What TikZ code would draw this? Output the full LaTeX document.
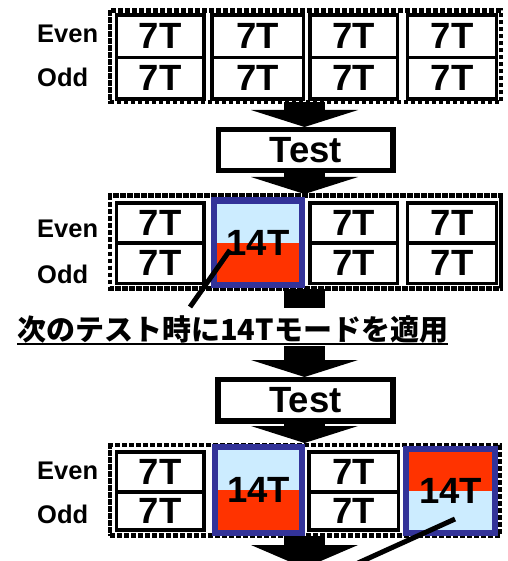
\documentclass[tikz,border=0pt]{standalone}
\usepackage{fontspec}
\setmainfont{Liberation Sans}
\newfontfamily\jpfont{Noto Sans CJK JP}
\usetikzlibrary{arrows.meta}
\definecolor{navy}{HTML}{333399}
\definecolor{hired}{HTML}{FF3300}
\definecolor{lblue}{HTML}{CCECFF}
\newcommand\bigtxt{\fontsize{36.5}{40}\selectfont\bfseries}
\newcommand\cellcol[6]{%
  \node[cell,minimum width={#3-#2},minimum height={#5-#4}] (#1a) at ({(#2+#3)/2},{(#4+#5)/2}) {7T};
  \node[cell,minimum width={#3-#2},minimum height={#6-#5}] (#1b) at ({(#2+#3)/2},{(#5+#6)/2}) {7T};}
\begin{document}
\begin{tikzpicture}[x=1pt,y=-1pt,
  frame/.style={draw,line width=4.5pt,dash pattern=on 4.2pt off 2.8pt,inner sep=0,outer sep=0},
  cell/.style={draw,fill=white,line width=3.8pt,inner sep=0,outer sep=0,font=\bigtxt},
  bigbox/.style={draw=navy,line width=6pt,fill=lblue,inner sep=0,outer sep=0,font=\bigtxt},
  redlow/.style={path picture={\fill[hired] (path picture bounding box.west) rectangle (path picture bounding box.south east);}},
  redhigh/.style={path picture={\fill[hired] (path picture bounding box.west) rectangle (path picture bounding box.north east);}},
  testbox/.style={draw,line width=5.5pt,fill=white,inner sep=0,outer sep=0,font=\bigtxt},
  rowlbl/.style={anchor=west,inner sep=0,font=\fontsize{25.5}{28}\selectfont\bfseries},
  blockarrow/.style={line width=41pt,-{Triangle[length=17pt 0 0,width=107pt 0 0,line width=0pt]}},
  pointer/.style={line width=5pt},
]
\useasboundingbox (0,0) rectangle (507,561);
\clip (0,0) rectangle (507,561);
\coordinate (ax) at (304.5,0);
\coordinate (aend) at (304.5,568);
% frames
\node[frame,minimum width=391pt,minimum height=91.5pt] (f1) at (305.5,56.25) {};
\node[frame,minimum width=391pt,minimum height=93pt] (f2) at (305.5,242) {};
\node[frame,minimum width=390pt,minimum height=90.5pt] (f3) at (305,490.25) {};
% test boxes
\node[testbox,minimum width=174.5pt,minimum height=41pt] (t1) at (305.75,150) {Test};
\node[testbox,minimum width=175pt,minimum height=41.5pt] (t2) at (305.5,400.25) {Test};
% arrows
\draw[blockarrow,shorten >=2.5pt] (f1.south -| ax) -- (t1.north -| ax);
\draw[blockarrow,shorten >=1.5pt] (t1.south -| ax) -- (f2.north -| ax);
\draw[blockarrow,shorten >=2.5pt] (f2.south -| ax) -- (t2.north -| ax);
\draw[blockarrow,shorten >=2pt] (t2.south -| ax) -- (f3.north -| ax);
\draw[line width=41pt,-{Triangle[length=23pt 0 0,width=107pt 0 0,line width=0pt]}] (f3.south -| ax) -- (aend);
% redraw frames on top of arrow shafts
\draw[frame] (f1.north west) rectangle (f1.south east);
\draw[frame] (f2.north west) rectangle (f2.south east);
\draw[frame] (f3.north west) rectangle (f3.south east);
% block 1
\cellcol{ca}{116.5}{204}{15}{57.5}{99}
\cellcol{cb}{212}{303.5}{15}{57.5}{99}
\cellcol{cc}{310}{397.5}{15}{57.5}{99}
\cellcol{cd}{407.5}{496.5}{15}{57.5}{99}
% block 2
\cellcol{da}{116.5}{204}{203}{243}{283.5}
\cellcol{dc}{310}{397.5}{203}{243}{283.5}
\cellcol{dd}{407.5}{496.5}{203}{243}{283.5}
\node[bigbox,redlow,minimum width=88pt,minimum height=84pt] (g2) at (258,242.5) {14T};
% block 3
\cellcol{ea}{116.5}{204}{452}{492}{530}
\cellcol{ec}{309}{398.5}{452}{492}{530}
\node[bigbox,redlow,minimum width=87pt,minimum height=86.5pt] (g3a) at (258.5,489.75) {14T};
\node[bigbox,redhigh,minimum width=89pt,minimum height=84pt] (g3b) at (450.5,491) {14T};
% row labels
\node[rowlbl] (e1) at (37,33.5) {Even};
\node[rowlbl] (o1) at (37,77.5) {Odd};
\node[rowlbl] (e2) at (37,229) {Even};
\node[rowlbl] (o2) at (37,274) {Odd};
\node[rowlbl] (e3) at (37,470.5) {Even};
\node[rowlbl] (o3) at (37,514) {Odd};
% label
\node[anchor=base west,fill=white,inner sep=0,text height=32pt,text depth=6pt,font=\jpfont\bfseries\fontsize{29}{32}\selectfont] (lbl) at (17,340) {次のテスト時に14Tモードを適用};
\draw[line width=2pt] ([yshift=-4pt]lbl.base west) -- ([yshift=-4pt]lbl.base east);
% pointers
\coordinate (p1s) at (230,250);
\coordinate (p1e) at (190,307);
\coordinate (p2s) at (455,519);
\coordinate (p2e) at (358,563);
\draw[pointer] (p1s) -- (p1e);
\draw[pointer] (p2s) -- (p2e);
\end{tikzpicture}
\end{document}
